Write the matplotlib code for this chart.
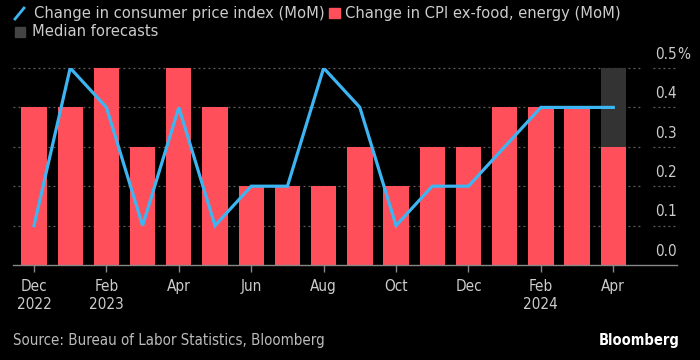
import numpy as np
import matplotlib
matplotlib.use("Agg")
import matplotlib.pyplot as plt
from matplotlib.lines import Line2D
from matplotlib.patches import Rectangle

# data, Dec 2022 .. Apr 2024
months = ["Dec", "Jan", "Feb", "Mar", "Apr", "May", "Jun", "Jul", "Aug",
          "Sep", "Oct", "Nov", "Dec", "Jan", "Feb", "Mar", "Apr"]
core = [0.4, 0.4, 0.5, 0.3, 0.5, 0.4, 0.2, 0.2, 0.2,
        0.3, 0.2, 0.3, 0.3, 0.4, 0.4, 0.4, 0.3]
headline = [0.1, 0.5, 0.4, 0.1, 0.4, 0.1, 0.2, 0.2, 0.5,
            0.4, 0.1, 0.2, 0.2, 0.3, 0.4, 0.4, 0.4]
forecast_idx = 16
forecast_val = 0.5
tick_idx = [0, 2, 4, 6, 8, 10, 12, 14, 16]
tick_labels = ["Dec\n2022", "Feb\n2023", "Apr", "Jun", "Aug", "Oct", "Dec", "Feb\n2024", "Apr"]
yticks = [0.0, 0.1, 0.2, 0.3, 0.4, 0.5]
ytick_labels = ["0.0", "0.1", "0.2", "0.3", "0.4", "0.5"]

RED = "#ff4f5a"
BLUE = "#3db5f2"
GRAY = "#333333"
TXT = "#cccccc"
BG = "black"
plt.rcParams['font.family'] = ["DejaVu Sans"]
plt.rcParams['font.stretch'] = "condensed"

fig = plt.figure(figsize=(7, 3.6), dpi=100, facecolor=BG)
ax = fig.add_axes([13 / 700, 1 - 265 / 360, (677 - 13) / 700, (265 - 68) / 360])
ax.set_facecolor(BG)

x = np.arange(len(months))
ax.set_xlim(-0.58, 17.76)
ax.set_ylim(0, 0.5)

# grid
for v in yticks[1:]:
    ax.plot([-0.58, 16.8], [v, v], color="#606060", lw=0.9, ls=(0, (1.5, 2.5)), zorder=0, clip_on=False)
    ax.plot([17.1, 17.72], [v, v], color="#606060", lw=0.9, ls=(0, (1.5, 2.5)), zorder=0, clip_on=False)

# forecast bar behind
ax.bar(x[forecast_idx], forecast_val, width=0.7, color=GRAY, zorder=1)
ax.bar(x, core, width=0.7, color=RED, zorder=2)
ax.plot(x, headline, color=BLUE, lw=2.3, zorder=3, solid_joinstyle="miter")

for s in ax.spines.values():
    s.set_visible(False)
ax.axhline(0, color="#888888", lw=1, zorder=4, clip_on=False)

ax.set_yticks([])
for v, lab in zip(yticks, ytick_labels):
    ax.text(17.76, v + 0.035, lab, color=TXT, fontsize=11, ha="right", va="center")
ax.text(17.76, 0.5 + 0.035, "%", color=TXT, fontsize=11, ha="left", va="center")

ax.set_xticks(x[tick_idx])
ax.set_xticklabels(tick_labels, color=TXT, fontsize=11, linespacing=1.3)
ax.tick_params(axis="x", length=5, color="#888888", width=1, pad=5)

# legend
fig.add_artist(Line2D([15 / 700, 24 / 700], [1 - 19 / 360, 1 - 8 / 360], color=BLUE, lw=2))
fig.text(34 / 700, 1 - 13.5 / 360, "Change in consumer price index (MoM)", color=TXT, fontsize=11.8, va="center")
fig.add_artist(Rectangle((329 / 700, 1 - 18 / 360), 11 / 700, 10 / 360, color=RED))
fig.text(345 / 700, 1 - 13.5 / 360, "Change in CPI ex-food, energy (MoM)", color=TXT, fontsize=11.8, va="center")
fig.add_artist(Rectangle((15 / 700, 1 - 37 / 360), 10 / 700, 10 / 360, color="#444444"))
fig.text(32 / 700, 1 - 32 / 360, "Median forecasts", color=TXT, fontsize=11.8, va="center")

fig.text(13 / 700, 1 - 341 / 360, "Source: Bureau of Labor Statistics, Bloomberg", color="#bbbbbb", fontsize=10.8, va="center")
fig.text(680 / 700, 1 - 341 / 360, "Bloomberg", color="white", fontsize=10.5, fontweight="bold", ha="right", va="center")

fig.savefig("out.png", dpi=100, facecolor=BG)
